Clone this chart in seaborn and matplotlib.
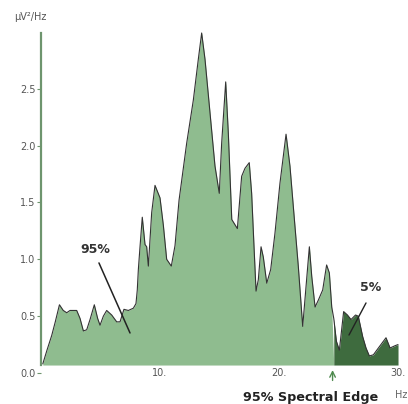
import matplotlib
matplotlib.use("Agg")
import matplotlib.pyplot as plt
import seaborn as sns
import numpy as np
import pandas as pd

# ---- data ----
freq_hz = [0.15, 0.5, 0.9, 1.2, 1.55, 1.87, 2.16, 2.44, 3.0, 3.28, 3.56, 3.84, 4.12, 4.48,
           4.76, 4.96, 5.24, 5.52, 5.94, 6.36, 6.64, 6.97, 7.34, 7.76, 7.98, 8.09, 8.18,
           8.32, 8.51, 8.74, 8.88, 9.02, 9.3, 9.58, 10.0, 10.28, 10.56, 10.95, 11.26, 11.6,
           12.24, 12.8, 13.22, 13.5, 13.78, 14.2, 14.62, 14.98, 15.18, 15.52, 15.74, 16.03,
           16.5, 16.86, 17.14, 17.5, 17.7, 17.9, 18.07, 18.26, 18.49, 18.68, 18.97, 19.3,
           19.66, 20.08, 20.59, 20.92, 21.34, 21.62, 21.99, 22.27, 22.55, 22.75, 23.03, 23.3,
           23.67, 24.0, 24.23, 24.43, 24.6, 24.82, 25.07, 25.43, 25.75, 26.05, 26.43, 26.66,
           27.03, 27.31, 27.59, 27.93, 28.35, 28.99, 29.33, 29.75, 30.0]
power = [0.08, 0.2, 0.33, 0.45, 0.60, 0.55, 0.53, 0.55, 0.55, 0.48, 0.37, 0.38, 0.47, 0.60,
         0.48, 0.42, 0.50, 0.55, 0.51, 0.45, 0.45, 0.56, 0.55, 0.57, 0.61, 0.73, 0.91,
         1.11, 1.37, 1.13, 1.11, 0.94, 1.41, 1.65, 1.54, 1.30, 1.00, 0.94, 1.12, 1.52,
         2.02, 2.40, 2.76, 2.99, 2.76, 2.29, 1.82, 1.58, 2.02, 2.56, 2.11, 1.35,
         1.27, 1.73, 1.80, 1.85, 1.58, 1.11, 0.72, 0.82, 1.11, 1.02, 0.79, 0.91,
         1.23, 1.67, 2.10, 1.82, 1.29, 0.94, 0.41, 0.76, 1.11, 0.85, 0.58, 0.64,
         0.73, 0.95, 0.88, 0.58, 0.48, 0.28, 0.20, 0.54, 0.51, 0.47, 0.51, 0.50,
         0.32, 0.22, 0.15, 0.16, 0.22, 0.31, 0.22, 0.24, 0.25]
spectral_edge_hz = 24.5
baseline = 0.07
x_ticks = [10, 20, 30]
x_tick_labels = ["10.", "20.", "30."]
y_ticks = [0.0, 0.5, 1.0, 1.5, 2.0, 2.5]
y_tick_labels = ["0.0", "0.5", "1.0", "1.5", "2.0", "2.5"]

df = pd.DataFrame({"freq": freq_hz, "power": power})

sns.set_style("white")
plt.rcParams["font.family"] = ["DejaVu Sans"]

W, H = 408, 404
fig = plt.figure(figsize=(W / 100, H / 100), dpi=100)
ax = fig.add_axes([41 / W, (H - 373) / H, 360 / W, 340 / H])

light = "#8FBC8F"
dark = "#3E6B3E"
axis_col = "#6E956E"

f = np.array(freq_hz)
p = np.array(power)
ax.fill_between(f, baseline, p, where=f <= spectral_edge_hz + 1e-9, interpolate=True,
                color=light, linewidth=0)
ax.fill_between(f, baseline, p, where=f >= spectral_edge_hz - 1e-9, interpolate=True,
                color=dark, linewidth=0)
sns.lineplot(data=df, x="freq", y="power", ax=ax, color="#333333", linewidth=0.8,
             sort=False, clip_on=False)

ax.set_xlim(0, 30.25)
ax.set_ylim(0, 2.99)
ax.set_xlabel("")
ax.set_ylabel("")

for s in ["top", "right", "bottom"]:
    ax.spines[s].set_visible(False)
ax.spines["left"].set_color(axis_col)
ax.spines["left"].set_linewidth(1.6)
ax.spines["left"].set_bounds(baseline, 2.99)

ax.set_yticks(y_ticks)
ax.set_yticklabels(y_tick_labels)
ax.set_xticks(x_ticks)
ax.set_xticklabels(x_tick_labels)
ax.tick_params(axis="y", left=True, length=3, width=0.8, color=axis_col, pad=1,
               labelsize=7, labelcolor="#555555")
ax.tick_params(axis="x", bottom=False, length=0, pad=-3.5, labelsize=7,
               labelcolor="#555555")

# annotations
ax.text(4.54, 1.09, "95%", ha="center", va="center", fontsize=9, fontweight="bold",
        color="#333333")
ax.plot([4.87, 7.48], [0.968, 0.352], color="#222222", linewidth=1.1)
ax.text(27.73, 0.748, "5%", ha="center", va="center", fontsize=9, fontweight="bold",
        color="#333333")
ax.plot([27.31, 25.88], [0.616, 0.334], color="#222222", linewidth=1.0)

ax.annotate("", xy=(spectral_edge_hz, 0.05), xytext=(spectral_edge_hz, -0.09),
            arrowprops=dict(arrowstyle="->", color="#4f8a4f", lw=1.0), annotation_clip=False)

fig.text(311 / W, 1 - 397 / H, "95% Spectral Edge", ha="center", va="center",
         fontsize=9.2, fontweight="bold", color="#222222")
fig.text(401 / W, 1 - 395 / H, "Hz", ha="center", va="center", fontsize=7, color="#666666")
fig.text(30 / W, 1 - 17 / H, "µV²/Hz", ha="center", va="center", fontsize=7, color="#555555")

fig.savefig("out.png", dpi=100)
